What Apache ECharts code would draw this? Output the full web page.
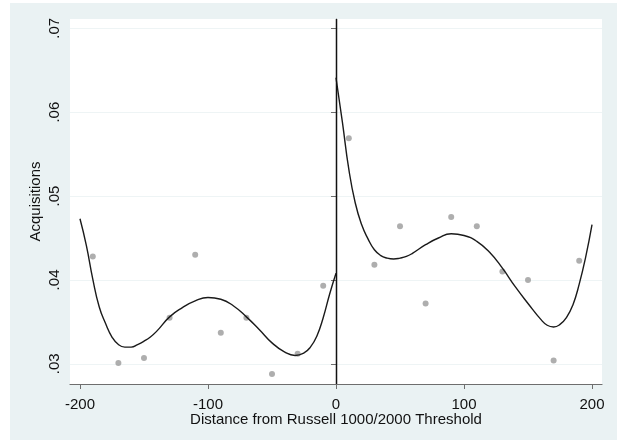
<!DOCTYPE html>
<html>
<head>
<meta charset="utf-8">
<script src="https://cdn.jsdelivr.net/npm/echarts@6/dist/echarts.min.js"></script>
<style>
  html, body { margin: 0; padding: 0; background: #fff; }
  #chart { position: absolute; left: 10px; top: 3px; width: 607px; height: 437px; }
</style>
</head>
<body>
<div id="chart"></div>
<script>
// bin means (scatter)
const binX = [-190, -170, -150, -130, -110, -90, -70, -50, -30, -10,
  10, 30, 50, 70, 90, 110, 130, 150, 170, 190]
const binY = [0.0428, 0.0301, 0.0307, 0.0355, 0.0430, 0.0337, 0.0355, 0.0288, 0.0312, 0.0393,
  0.0569, 0.0418, 0.0464, 0.0372, 0.0475, 0.0464, 0.0410, 0.0400, 0.0304, 0.0423]

// fitted curve left of threshold
const leftFitX = [-200, -195, -190, -185, -180, -175, -170, -165, -160, -155, -150, -145, -140,
  -130, -120, -110, -100, -90, -80, -70, -60, -50, -40, -32, -25, -20, -15, -10, -5, 0]
const leftFitY = [0.0473, 0.0441, 0.0401, 0.0368, 0.0348, 0.0332, 0.0323, 0.0320, 0.0320, 0.0323, 0.0327, 0.0332, 0.0339,
  0.0356, 0.0367, 0.0375, 0.0379, 0.0377, 0.0369, 0.0356, 0.0341, 0.0325, 0.0314, 0.0310, 0.0313, 0.0320, 0.0333, 0.0355, 0.0383, 0.0408]

// fitted curve right of threshold
const rightFitX = [0, 5, 10, 15, 20, 25, 30, 35, 40, 45, 50, 55, 60, 70, 80, 90, 100,
  110, 120, 130, 140, 150, 160, 165, 170, 175, 180, 185, 190, 195, 200]
const rightFitY = [0.0641, 0.0588, 0.0532, 0.0492, 0.0466, 0.0449, 0.0436, 0.0429, 0.0426, 0.0425, 0.0426, 0.0428, 0.0432, 0.0442, 0.0450, 0.0455, 0.0453,
  0.0446, 0.0433, 0.0414, 0.0392, 0.0372, 0.0353, 0.0346, 0.0344, 0.0347, 0.0355, 0.0370, 0.0395, 0.0427, 0.0466]

const xTicks = [-200, -100, 0, 100, 200]
const yTicks = [0.03, 0.04, 0.05, 0.06, 0.07]

const zip = (xs, ys) => xs.map((x, i) => [x, ys[i]])

const axisColor = '#6e6e6e'
const textStyle = { fontFamily: 'Liberation Sans', fontSize: 15, color: '#111' }

const chart = echarts.init(document.getElementById('chart'))

const option = {
  backgroundColor: '#eaf2f3',
  animation: false,
  grid: {
    left: 60,
    top: 16,
    right: 15,
    bottom: 56,
    show: true,
    backgroundColor: '#ffffff',
    borderWidth: 0
  },
  xAxis: {
    type: 'value',
    min: -207.8,
    max: 207.8,
    name: 'Distance from Russell 1000/2000 Threshold',
    nameLocation: 'middle',
    nameGap: 28,
    nameMoveOverlap: false,
    nameTextStyle: textStyle,
    axisLine: { lineStyle: { color: axisColor, width: 1.2 } },
    axisTick: { show: true, length: 5, customValues: xTicks, lineStyle: { color: axisColor } },
    axisLabel: { customValues: xTicks, margin: 13, ...textStyle, showMinLabel: true, showMaxLabel: true },
    splitLine: { show: false }
  },
  yAxis: {
    type: 'value',
    min: 0.0276,
    max: 0.0711,
    name: 'Acquisitions',
    nameLocation: 'middle',
    nameRotate: 90,
    nameGap: 27,
    nameMoveOverlap: false,
    nameTextStyle: textStyle,
    axisLine: { show: true, lineStyle: { color: axisColor, width: 1.2 } },
    axisTick: { show: true, length: 5, customValues: yTicks, lineStyle: { color: axisColor } },
    axisLabel: {
      customValues: yTicks,
      rotate: 90,
      margin: 8,
      ...textStyle,
      formatter: v => v.toFixed(2).replace(/^0/, '')
    },
    splitLine: { show: true, lineStyle: { color: '#eef4f5', width: 1 } }
  },
  series: [
    {
      type: 'scatter',
      data: zip(binX, binY),
      symbolSize: 6,
      itemStyle: { color: '#9a9a9a' },
      z: 3
    },
    {
      type: 'line',
      data: zip(leftFitX, leftFitY),
      smooth: 0.5,
      showSymbol: false,
      lineStyle: { color: '#1a1a1a', width: 1.4 },
      z: 4,
      markLine: {
        silent: true,
        symbol: 'none',
        label: { show: false },
        lineStyle: { color: '#111', width: 1.4, type: 'solid' },
        data: [{ xAxis: 0 }]
      }
    },
    {
      type: 'line',
      data: zip(rightFitX, rightFitY),
      smooth: 0.5,
      showSymbol: false,
      lineStyle: { color: '#1a1a1a', width: 1.4 },
      z: 4
    }
  ]
}

chart.setOption(option)
</script>
</body>
</html>
